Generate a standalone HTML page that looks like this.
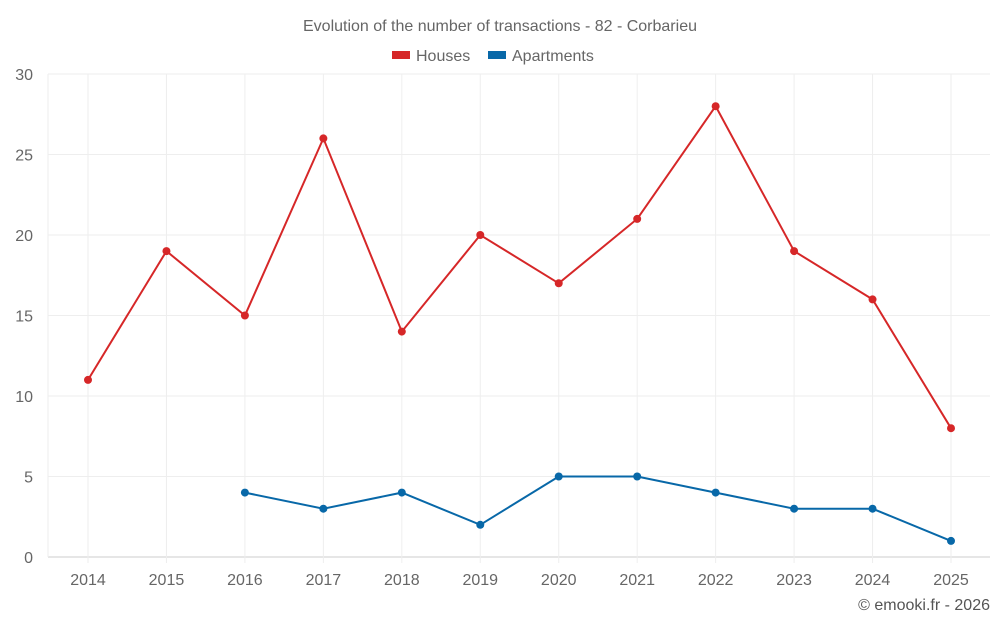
<!DOCTYPE html>
<html><head><meta charset="utf-8"><style>
body{margin:0;background:#fff;font-family:"Liberation Sans",sans-serif;}
svg text{font-family:"Liberation Sans",sans-serif;}
</style></head><body>
<svg id="chart" width="1000" height="625" xmlns="http://www.w3.org/2000/svg">
<text x="500" y="31" text-anchor="middle" font-size="16" fill="#666">Evolution of the number of transactions - 82 - Corbarieu</text>
<g>
<g><rect x="392" y="51" width="18" height="8" fill="#d62728"/><text x="416" y="61" font-size="16" fill="#666">Houses</text></g>
<g><rect x="488" y="51" width="18" height="8" fill="#0868a8"/><text x="512" y="61" font-size="16" fill="#666">Apartments</text></g>
</g>
<g id="grid"></g>
<g id="axes"></g>
<g id="series"></g>
<text x="990" y="610" text-anchor="end" font-size="16" fill="#555">© emooki.fr - 2026</text>
</svg>
<script>
const years=[2014,2015,2016,2017,2018,2019,2020,2021,2022,2023,2024,2025];
const houses=[11,19,15,26,14,20,17,21,28,19,16,8];
const apartments=[null,null,4,3,4,2,5,5,4,3,3,1];
const yTicks=[0,5,10,15,20,25,30];
const NS="http://www.w3.org/2000/svg";
const L=48,R=990,T=74,B=557,yMax=30;
const x=i=>88+i*(951-88)/(years.length-1);
const y=v=>B-(v/yMax)*(B-T);
function mk(tag,attrs,parent){const e=document.createElementNS(NS,tag);for(const k in attrs)e.setAttribute(k,attrs[k]);parent.appendChild(e);return e;}
const grid=document.getElementById('grid'),axes=document.getElementById('axes'),series=document.getElementById('series');
yTicks.forEach(v=>{
 const l=mk('line',{x1:L,x2:R,y1:y(v),y2:y(v),stroke:v===0?'#ccc':'#eee'},grid);
 
 
 const t=mk('text',{x:33,y:y(v)+6,'text-anchor':'end','font-size':16,fill:'#666'},axes);
 t.textContent=v;
 
 
});
years.forEach((yr,i)=>{
 const l=mk('line',{x1:x(i),x2:x(i),y1:T,y2:B+6,stroke:'#eee'},grid);
 
 
 const t=mk('text',{x:x(i),y:585,'text-anchor':'middle','font-size':16,fill:'#666'},axes);
 t.textContent=yr;
 
 
});
mk('line',{x1:L,x2:L,y1:T,y2:B,stroke:'#eee'},grid);
function draw(vals,color,name){
 const pts=vals.map((v,i)=>v==null?null:[x(i),y(v)]).filter(p=>p);
 const p=mk('polyline',{points:pts.map(p=>p.join(',')).join(' '),fill:'none',stroke:color,'stroke-width':2},series);
 
 
 pts.forEach(pt=>{
  const c=mk('circle',{cx:pt[0],cy:pt[1],r:4,fill:color},series);
  
  
 });
}
draw(houses,'#d62728','houses');
draw(apartments,'#0868a8','apartments');
</script>
</body></html>
